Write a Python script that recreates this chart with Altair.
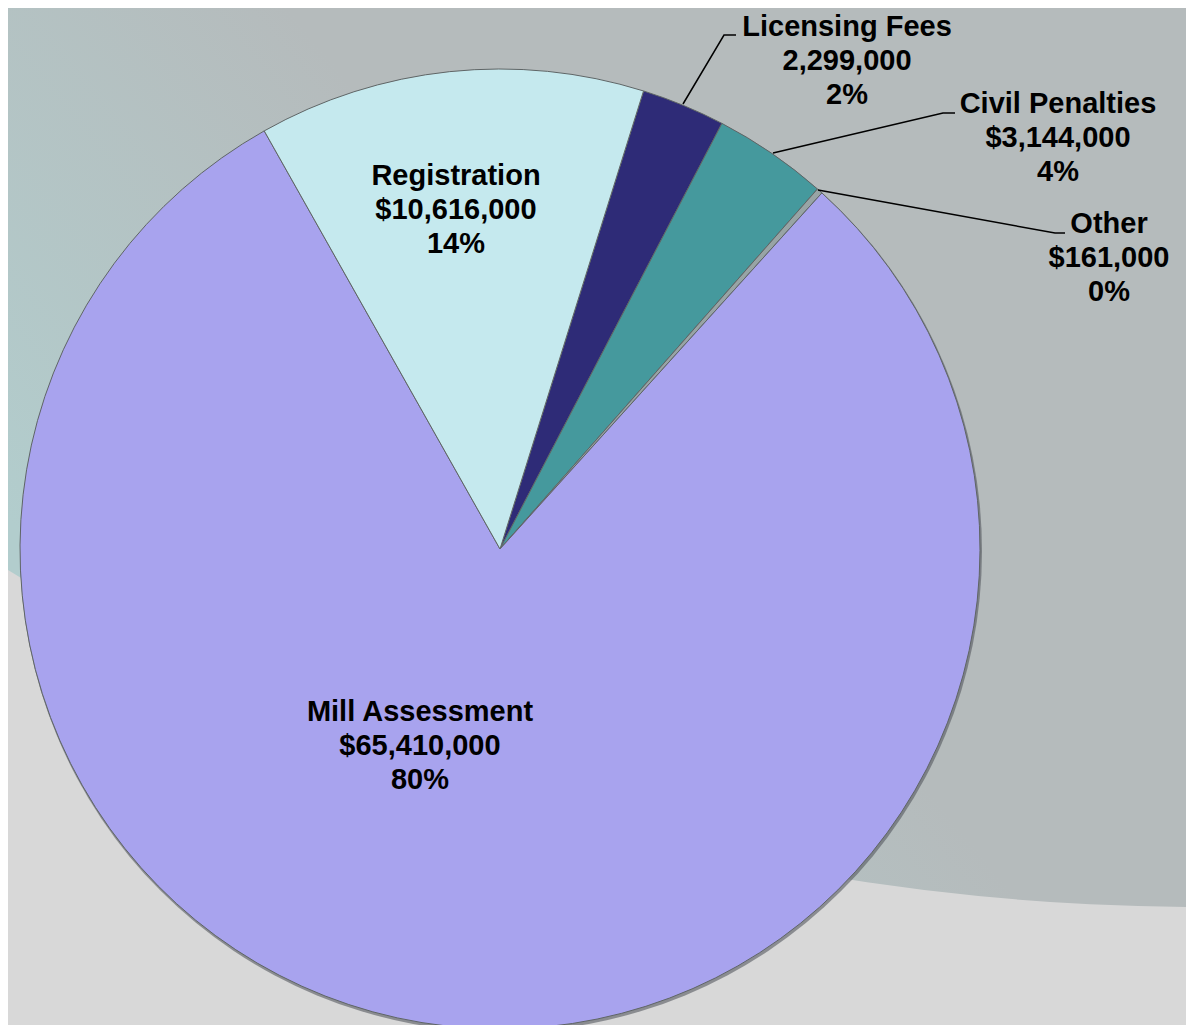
import math
import altair as alt
import pandas as pd

# ---- data ----
categories = ["Licensing Fees", "Civil Penalties", "Other", "Mill Assessment", "Registration"]
values = [2299000, 3144000, 161000, 65410000, 10616000]
value_labels = ["2,299,000", "$3,144,000", "$161,000", "$65,410,000", "$10,616,000"]
pct_labels = ["2%", "4%", "0%", "80%", "14%"]
colors = ["#2E2B77", "#45999D", "#98A4A5", "#A8A3EE", "#C5E9EE"]

# ---- layout (chart pixel coordinates) ----
W, H = 1178, 1017
CX, CY, R = 492, 541, 480
START = math.radians(17.4)
# position of the first line of each label
label_x = [839, 1050, 1101, 412, 448]
label_y = [19, 96, 216, 704, 168]
leaders = {
    "Licensing Fees": [(675, 96), (716, 27), (728, 27)],
    "Civil Penalties": [(765, 145), (935, 105), (947, 105)],
    "Other": [(810, 182), (1047, 225), (1057, 225)],
}

pie_df = pd.DataFrame({
    "category": categories,
    "value": values,
    "ord": list(range(len(categories))),
})

label_df = pd.DataFrame({
    "text": [f"{c}\n{v}\n{p}" for c, v, p in zip(categories, value_labels, pct_labels)],
    "lx": label_x,
    "ly": label_y,
})

rows = []
for seg, pts in leaders.items():
    for i, (px, py) in enumerate(pts):
        rows.append({"seg": seg, "px": px, "py": py, "i": i})
leader_df = pd.DataFrame(rows)

one_df = pd.DataFrame({"k": [1]})

# background: grey upper region (lower edge of a large circle) over a light base
bg = alt.Chart(one_df).mark_arc(
    radius=2283, theta=0, theta2=2 * math.pi,
    fill=alt.Gradient(
        gradient="linear",
        x1=0.2385, y1=0.915, x2=0.33, y2=0.84,
        stops=[alt.GradientStop(offset=0, color="#B2CDCD"),
               alt.GradientStop(offset=1, color="#B5BBBC")],
    ),
).encode(x=alt.value(1194), y=alt.value(-1384))

# soft shadow under the pie
shadow = alt.Chart(one_df).mark_arc(
    radius=R + 1, theta=0, theta2=2 * math.pi, fill="#4a4f55", opacity=0.55
).encode(x=alt.value(CX + 1), y=alt.value(CY + 2))

pie = alt.Chart(pie_df).mark_arc(
    outerRadius=R, stroke="#5f6566", strokeWidth=1
).encode(
    theta=alt.Theta("value:Q", stack=True,
                    scale=alt.Scale(range=[START, START + 2 * math.pi])),
    order=alt.Order("ord:Q"),
    color=alt.Color("category:N",
                    scale=alt.Scale(domain=categories, range=colors),
                    legend=None),
    x=alt.value(CX),
    y=alt.value(CY),
)

lines = alt.Chart(leader_df).mark_line(color="black", strokeWidth=1.5).encode(
    x=alt.X("px:Q", scale=None, axis=None),
    y=alt.Y("py:Q", scale=None, axis=None),
    detail="seg:N",
    order="i:Q",
)

labels = alt.Chart(label_df).mark_text(
    font="Liberation Sans", fontWeight="bold", fontSize=29, lineHeight=34,
    lineBreak="\n", align="center", baseline="middle", color="black",
).encode(
    x=alt.X("lx:Q", scale=None, axis=None),
    y=alt.Y("ly:Q", scale=None, axis=None),
    text="text:N",
)

chart = alt.layer(bg, shadow, pie, lines, labels).properties(
    width=W, height=H, autosize="none", padding=0, background="#D8D8D8"
).configure_view(stroke=None)

chart.save("out.html", embed_options={"renderer": "svg", "actions": False})
